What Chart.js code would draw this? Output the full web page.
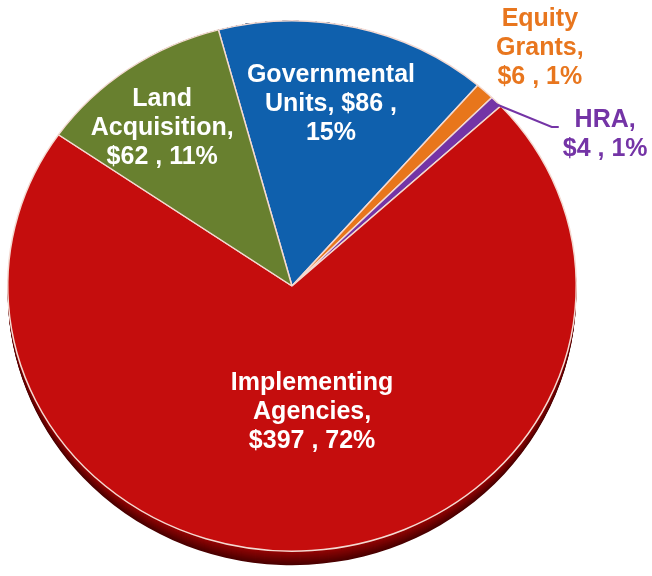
<!DOCTYPE html>
<html>
<head>
<meta charset="utf-8">
<script src="https://cdn.jsdelivr.net/npm/chart.js@4.4.0/dist/chart.umd.min.js"></script>
<style>
  html, body { margin: 0; padding: 0; background: #fff; }
  #wrap { width: 652px; height: 576px; }
</style>
</head>
<body>
<div id="wrap"><canvas id="pie"></canvas></div>
<script>
// spending by category, $ millions
const names = ["Governmental Units", "Equity Grants", "HRA", "Implementing Agencies", "Land Acquisition"];
const amounts = [86, 6, 4, 397, 62];

const faceColors = ["#0F60AD", "#E8761B", "#7434A6", "#C50D0D", "#68802F"];
const sideTop = ["#0A4580", "#A85410", "#52247A", "#9A0505", "#4A5C20"];
const sideBottom = ["#052848", "#6A3008", "#2E1245", "#4A0000", "#2C3610"];
const textColors = ["#fff", "#E8761E", "#7434A6", "#fff", "#fff"];

// where each label sits: distance as fraction of radius, turn (deg) off the mid angle, wrap width
const labelPlace = [
  { dist: 0.70, turn: -1.6, wrap: 175 },
  { dist: 1.25, turn: 1.5, wrap: 100 },
  { dist: 1.24, turn: 16.7, wrap: 90, leader: true },
  { dist: 0.48, turn: -4.5, wrap: 175 },
  { dist: 0.75, turn: -2.4, wrap: 175 },
];

const squash = 0.933; // tilted pie: vertical scale
const depth = 14;
const total = amounts.reduce((s, v) => s + v, 0);

function arcPath(ctx, a) {
  ctx.beginPath();
  ctx.moveTo(a.x, a.y);
  ctx.arc(a.x, a.y, a.outerRadius, a.startAngle, a.endAngle);
  ctx.closePath();
}

function mix(c1, c2, t) {
  const p = c => [1, 3, 5].map(o => parseInt(c.substr(o, 2), 16));
  const a = p(c1), b = p(c2);
  return "rgb(" + a.map((v, i) => Math.round(v + (b[i] - v) * t)).join(",") + ")";
}

function wrapText(ctx, text, maxW) {
  const words = text.split(" ");
  const lines = [];
  let cur = "";
  for (const w of words) {
    const test = cur ? cur + " " + w : w;
    if (cur && ctx.measureText(test).width > maxW) {
      lines.push(cur);
      cur = w;
    } else {
      cur = test;
    }
  }
  if (cur) lines.push(cur);
  return lines;
}

const tiltPlugin = {
  id: "tilt",
  beforeDatasetsDraw(chart) {
    const ctx = chart.ctx;
    const arcs = chart.getDatasetMeta(0).data;
    const cx = arcs[0].x, cy = arcs[0].y, R = arcs[0].outerRadius;
    // side wall: thickest at the front, vanishing at the sides
    for (let d = depth; d >= 1; d--) {
      ctx.save();
      ctx.translate(cx, cy + d / 2);
      ctx.scale(1, squash + d / (2 * R));
      ctx.translate(-cx, -cy);
      arcs.forEach((a, i) => {
        arcPath(ctx, a);
        ctx.fillStyle = mix(sideTop[i], sideBottom[i], d / depth);
        ctx.fill();
      });
      ctx.restore();
    }
    ctx.save();
    ctx.translate(cx, cy);
    ctx.scale(1, squash);
    ctx.translate(-cx, -cy);
  },
  afterDatasetsDraw(chart) {
    const ctx = chart.ctx;
    ctx.restore();
    const arcs = chart.getDatasetMeta(0).data;
    ctx.save();
    ctx.font = 'bold 25px "Liberation Sans", Arial, sans-serif';
    ctx.textAlign = "center";
    ctx.textBaseline = "middle";
    const lh = 29;
    arcs.forEach((a, i) => {
      const p = labelPlace[i];
      const mid = (a.startAngle + a.endAngle) / 2;
      const ang = mid + p.turn * Math.PI / 180;
      const r = a.outerRadius * p.dist;
      const x = a.x + r * Math.cos(ang);
      const y = a.y + r * Math.sin(ang) * squash;
      const pct = Math.round(amounts[i] / total * 100);
      const text = names[i] + ", $" + amounts[i] + " , " + pct + "%";
      const lines = wrapText(ctx, text, p.wrap);
      ctx.fillStyle = textColors[i];
      lines.forEach((ln, j) => {
        ctx.fillText(ln, x, y + (j - (lines.length - 1) / 2) * lh);
      });
      if (p.leader) {
        const w = Math.max(...lines.map(l => ctx.measureText(l).width));
        const sx = a.x + a.outerRadius * 0.99 * Math.cos(mid);
        const sy = a.y + a.outerRadius * 0.99 * Math.sin(mid) * squash;
        ctx.beginPath();
        ctx.moveTo(sx, sy);
        ctx.lineTo(x - w / 2 - 11, y - 8);
        ctx.lineTo(x - w / 2 - 4, y - 8);
        ctx.strokeStyle = textColors[i];
        ctx.lineWidth = 2;
        ctx.stroke();
      }
    });
    ctx.restore();
  }
};

new Chart("pie", {
  type: "pie",
  data: {
    labels: names,
    datasets: [{
      data: amounts,
      backgroundColor: faceColors,
      borderColor: "#F4DAD2",
      borderWidth: 1.5,
    }],
  },
  options: {
    responsive: true,
    maintainAspectRatio: false,
    animation: false,
    events: [],
    rotation: -15,
    layout: { padding: { left: 7, right: 75, top: 1, bottom: 5 } },
    plugins: {
      legend: { display: false },
      tooltip: { enabled: false },
    },
  },
  plugins: [tiltPlugin],
});
</script>
</body>
</html>
